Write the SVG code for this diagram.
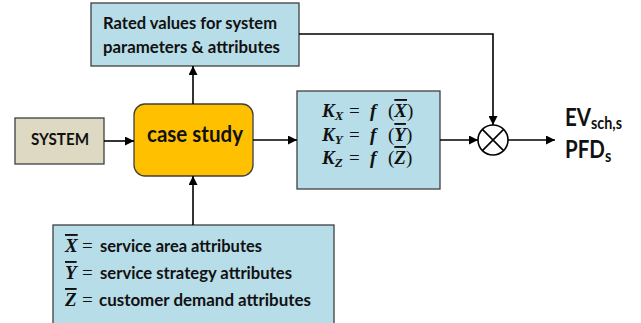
<svg xmlns="http://www.w3.org/2000/svg" width="641" height="323" viewBox="0 0 641 323">
<defs>
<marker id="ah" viewBox="0 0 10 10" refX="10" refY="5" markerWidth="9" markerHeight="9" markerUnits="userSpaceOnUse" orient="auto">
<path d="M0,0 L10,5 L0,10 z" fill="#000"/>
</marker>
<style>
.box{stroke:#3f3f3f;stroke-width:1.3}
.blue{fill:#b7dde8}
.lbl{font-family:Lato,"Liberation Sans",sans-serif;font-weight:bold;fill:#111}
.m{font-family:"Liberation Serif",serif;fill:#111}
.bi{font-weight:bold;font-style:italic}
.conn{stroke:#000;stroke-width:1.6;fill:none}
</style>
</defs>
<rect width="641" height="323" fill="#fff"/>
<g id="rated">
<rect class="box blue" x="91" y="3" width="208" height="63"/>
<text class="lbl" x="103" y="29" font-size="17.5" textLength="174" lengthAdjust="spacingAndGlyphs">Rated values for system</text>
<text class="lbl" x="103" y="53" font-size="17.5" textLength="177" lengthAdjust="spacingAndGlyphs">parameters &amp; attributes</text>
</g>
<g id="system">
<rect class="box" fill="#ddd9c3" x="15" y="118" width="89" height="46"/>
<text class="lbl" x="31" y="145" font-size="17" textLength="58" lengthAdjust="spacingAndGlyphs">SYSTEM</text>
</g>
<g id="casestudy">
<rect class="box" fill="#ffc000" x="134" y="104" width="119" height="72" rx="11" ry="11"/>
<text class="lbl" x="147" y="142" font-size="22" textLength="96" lengthAdjust="spacingAndGlyphs">case study</text>
</g>
<g id="kbox">
<rect class="box blue" x="297" y="91" width="143" height="98"/>
<text class="m" font-size="19" y="117"><tspan x="322" class="bi">K</tspan><tspan class="bi" font-size="13" dy="3">X</tspan><tspan x="349" dy="-3">=</tspan><tspan x="370" class="bi">f</tspan><tspan x="388">(</tspan><tspan class="bi" text-decoration="overline">X</tspan><tspan>)</tspan></text>
<text class="m" font-size="19" y="141"><tspan x="322" class="bi">K</tspan><tspan class="bi" font-size="13" dy="3">Y</tspan><tspan x="349" dy="-3">=</tspan><tspan x="370" class="bi">f</tspan><tspan x="388">(</tspan><tspan class="bi" text-decoration="overline">Y</tspan><tspan>)</tspan></text>
<text class="m" font-size="19" y="164"><tspan x="322" class="bi">K</tspan><tspan class="bi" font-size="13" dy="3">Z</tspan><tspan x="349" dy="-3">=</tspan><tspan x="370" class="bi">f</tspan><tspan x="388">(</tspan><tspan class="bi" text-decoration="overline">Z</tspan><tspan>)</tspan></text>
</g>
<g id="attributes">
<rect class="box blue" x="53" y="225" width="281" height="102"/>
<text class="m bi" font-size="19" x="65" y="252" text-decoration="overline">X</text>
<text class="m" font-size="19" x="82" y="252">=</text>
<text class="lbl" font-size="17" x="100" y="252" textLength="162" lengthAdjust="spacingAndGlyphs">service area attributes</text>
<text class="m bi" font-size="19" x="65" y="279" text-decoration="overline">Y</text>
<text class="m" font-size="19" x="82" y="279">=</text>
<text class="lbl" font-size="17" x="100" y="279" textLength="192" lengthAdjust="spacingAndGlyphs">service strategy attributes</text>
<text class="m bi" font-size="19" x="65" y="306" text-decoration="overline">Z</text>
<text class="m" font-size="19" x="82" y="306">=</text>
<text class="lbl" font-size="17" x="99" y="306" textLength="212" lengthAdjust="spacingAndGlyphs">customer demand attributes</text>
</g>
<g id="multiplier">
<circle cx="493" cy="140" r="15" fill="#fff" stroke="#000" stroke-width="1.6"/>
<path d="M482.4,129.4 L503.6,150.6 M503.6,129.4 L482.4,150.6" stroke="#000" stroke-width="1.6"/>
</g>
<g id="output" transform="translate(565,0) scale(0.82,1)">
<text class="lbl" font-size="25" x="0" y="126">EV<tspan font-size="17.5" dy="3">sch,s</tspan></text>
<text class="lbl" font-size="25" x="0" y="158">PFD<tspan font-size="17.5" dy="4">s</tspan></text>
</g>
<g id="connectors">
<line class="conn" x1="104" y1="141" x2="134" y2="141" marker-end="url(#ah)"/>
<line class="conn" x1="193" y1="104" x2="193" y2="66" marker-end="url(#ah)"/>
<line class="conn" x1="193" y1="225" x2="193" y2="176" marker-end="url(#ah)"/>
<line class="conn" x1="253" y1="140" x2="297" y2="140" marker-end="url(#ah)"/>
<polyline class="conn" points="299,34 493,34 493,125" marker-end="url(#ah)"/>
<line class="conn" x1="440" y1="140" x2="478" y2="140" marker-end="url(#ah)"/>
<line class="conn" x1="508" y1="140" x2="555" y2="140" marker-end="url(#ah)"/>
</g>
</svg>
